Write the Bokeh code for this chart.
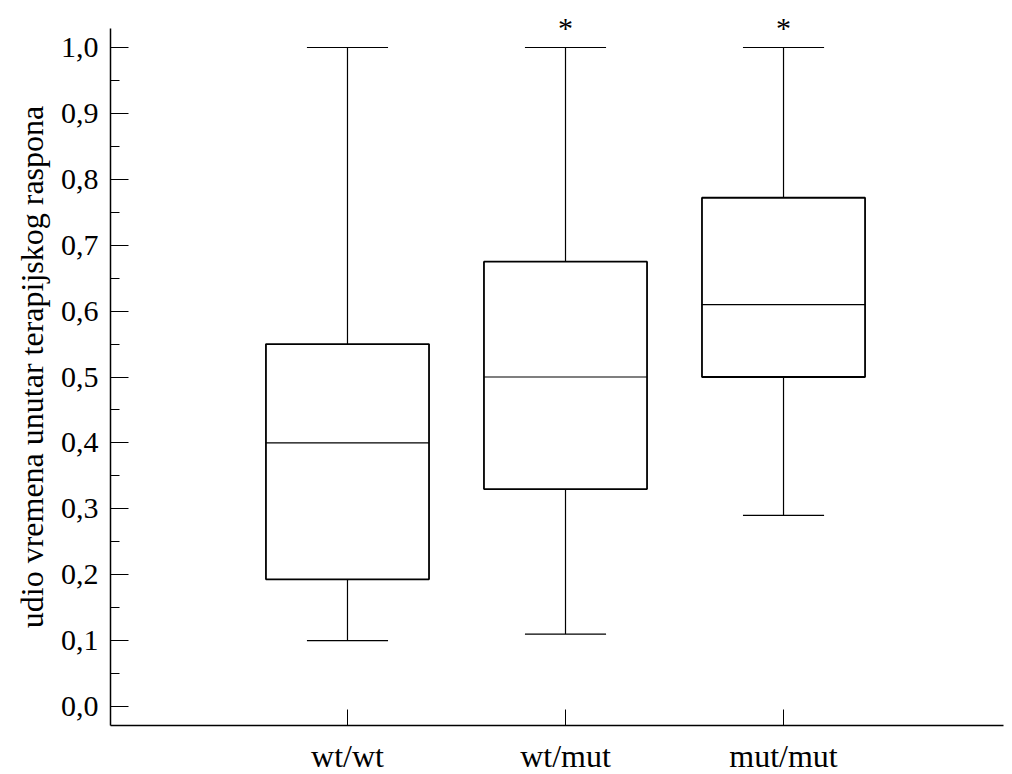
from bokeh.plotting import figure
from bokeh.models import Range1d, FixedTicker, ColumnDataSource
from bokeh.embed import file_html
from bokeh.resources import INLINE
from bokeh.core.properties import value

# ---- data ----
categories = ["wt/wt", "wt/mut", "mut/mut"]
whisker_low = [0.10, 0.11, 0.29]
q1 = [0.193, 0.33, 0.50]
median = [0.40, 0.50, 0.61]
q3 = [0.55, 0.675, 0.772]
whisker_high = [1.00, 1.00, 1.00]
significance = ["", "*", "*"]

y_ticks = [0.0, 0.1, 0.2, 0.3, 0.4, 0.5, 0.6, 0.7, 0.8, 0.9, 1.0]
y_tick_labels = ["0,0", "0,1", "0,2", "0,3", "0,4", "0,5", "0,6", "0,7", "0,8", "0,9", "1,0"]
y_minor_ticks = [0.05, 0.15, 0.25, 0.35, 0.45, 0.55, 0.65, 0.75, 0.85, 0.95]
y_axis_label = "udio vremena unutar terapijskog raspona"

# ---- style constants ----
FONT = "Liberation Serif"
BOX_W = 0.748
CAP_HALF = 0.186
STAR_OFFSET = 0.030

xs = [i + 1 for i in range(len(categories))]
src = ColumnDataSource(dict(
    x=xs,
    lo=whisker_low, q1=q1, med=median, q3=q3, hi=whisker_high,
    cap_l=[x - CAP_HALF for x in xs], cap_r=[x + CAP_HALF for x in xs],
    box_l=[x - BOX_W / 2 for x in xs], box_r=[x + BOX_W / 2 for x in xs],
))

star_x = [x for x, s in zip(xs, significance) if s]
star_y = [h + STAR_OFFSET for h, s in zip(whisker_high, significance) if s]
star_t = [s for s in significance if s]

p = figure(
    frame_width=893, frame_height=717,
    min_border_left=110, min_border_right=9, min_border_top=8, min_border_bottom=49,
    x_range=Range1d(-0.087, 4.009), y_range=Range1d(-0.0288, 1.0592),
    output_backend="svg", toolbar_location=None,
)
p.outline_line_color = None
p.xgrid.visible = False
p.ygrid.visible = False
p.background_fill_color = "white"
p.border_fill_color = "white"

# whiskers
p.segment(x0="x", y0="q3", x1="x", y1="hi", source=src, line_color="black", line_width=1.2)
p.segment(x0="x", y0="q1", x1="x", y1="lo", source=src, line_color="black", line_width=1.2)
p.segment(x0="cap_l", y0="hi", x1="cap_r", y1="hi", source=src, line_color="black", line_width=1.2)
p.segment(x0="cap_l", y0="lo", x1="cap_r", y1="lo", source=src, line_color="black", line_width=1.2)
# boxes
p.vbar(x="x", width=BOX_W, bottom="q1", top="q3", source=src,
       fill_color="white", line_color="black", line_width=1.8)
p.segment(x0="box_l", y0="med", x1="box_r", y1="med", source=src, line_color="black", line_width=1.2)

# significance markers
p.text(x=star_x, y=star_y, text=star_t, text_font=value(FONT), text_font_size="30px",
       text_align="center", text_baseline="alphabetic", text_color="black")

# y axis
yax = p.yaxis[0]
yax.ticker = FixedTicker(ticks=y_ticks, minor_ticks=y_minor_ticks)
yax.major_label_overrides = {t: l for t, l in zip(y_ticks, y_tick_labels)}
yax.bounds = (-0.0288, 1.029)
yax.axis_line_width = 1.5
yax.axis_line_color = "black"
yax.major_tick_in = 18
yax.major_tick_out = 0
yax.minor_tick_in = 9
yax.minor_tick_out = 0
yax.major_tick_line_color = "black"
yax.minor_tick_line_color = "black"
yax.major_label_text_font = FONT
yax.major_label_text_font_size = "30px"
yax.major_label_text_color = "black"
yax.major_label_standoff = 12
yax.axis_label = y_axis_label
yax.axis_label_text_font = FONT
yax.axis_label_text_font_size = "32px"
yax.axis_label_text_font_style = "normal"
yax.axis_label_text_color = "black"
yax.axis_label_standoff = 8

# x axis
xax = p.xaxis[0]
xax.ticker = FixedTicker(ticks=xs, minor_ticks=[])
xax.major_label_overrides = {x: c for x, c in zip(xs, categories)}
xax.axis_line_width = 1.5
xax.axis_line_color = "black"
xax.major_tick_in = 16
xax.major_tick_out = 0
xax.minor_tick_in = 0
xax.minor_tick_out = 0
xax.major_tick_line_color = "black"
xax.major_label_text_font = FONT
xax.major_label_text_font_size = "32px"
xax.major_label_text_color = "black"
xax.major_label_standoff = 12

open("out.html", "w").write(file_html(p, INLINE))
